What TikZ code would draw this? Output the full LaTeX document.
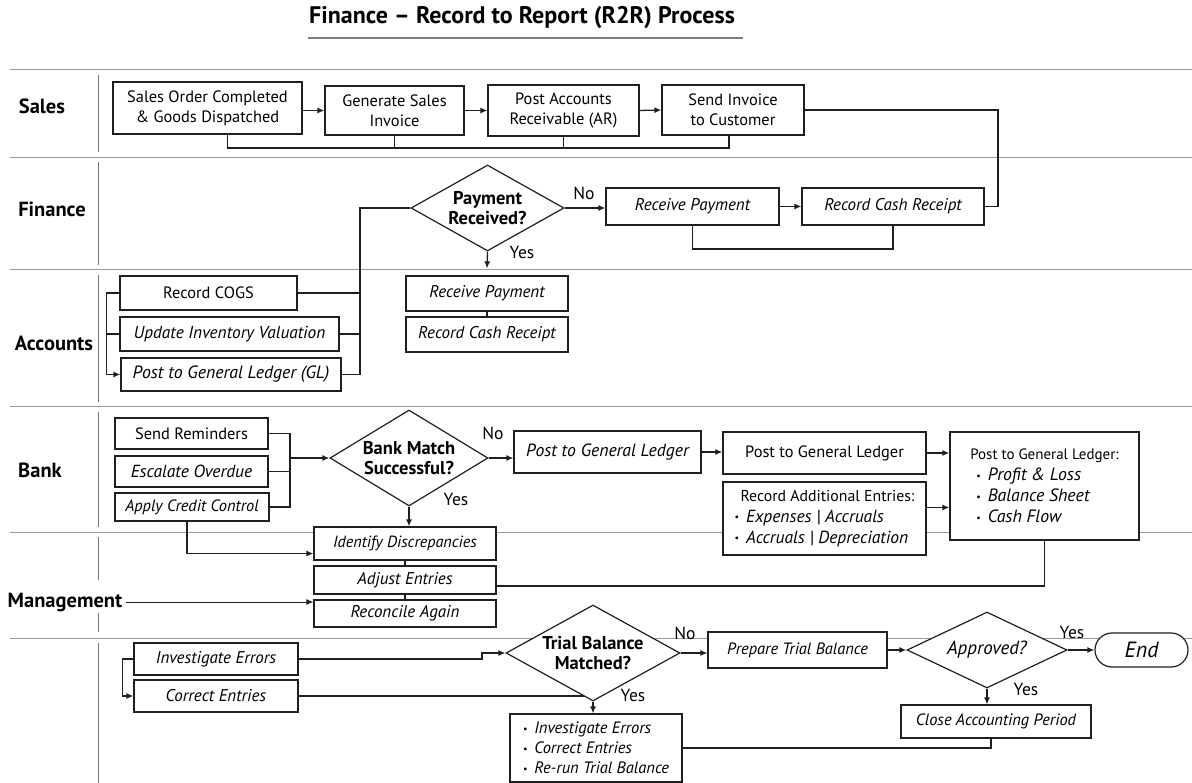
\documentclass[tikz,border=0pt]{standalone}
\usepackage{fontspec}
\setmainfont{PT Sans}
\usetikzlibrary{arrows.meta,shapes.geometric,calc}
\newcommand{\mybul}{\raisebox{1.5pt}{\fontsize{10}{10}\selectfont\textbullet}\hspace{7pt}}
\begin{document}
\begin{tikzpicture}[x=1pt,y=-1pt,
  lane/.style={draw=black!40, line width=1pt},
  sep/.style={draw=black!55, line width=0.8pt},
  box/.style={draw=black!88, fill=white, line width=1.2pt, inner sep=2pt, align=center,
    font=\fontsize{16.4}{20}\selectfont, text=black},
  ibox/.style={box, font=\fontsize{17}{20}\selectfont\itshape},
  dia/.style={diamond, draw=black!88, fill=white, line width=1.2pt, inner sep=0pt},
  dtext/.style={align=center, font=\fontsize{18.5}{20}\selectfont\bfseries, text=black},
  conn/.style={draw=black!88, line width=1.3pt},
  arr/.style={conn, -{Latex[length=7pt,width=6pt]}},
  lanelbl/.style={font=\fontsize{20.5}{22}\selectfont\bfseries, text=black},
  lbl/.style={font=\fontsize{17.5}{20}\selectfont, text=black},
]
\useasboundingbox (0,0) rectangle (1192,783);

% title
\node[font=\fontsize{24}{26}\selectfont\bfseries, text=black] (title) at (522,18)
  {Finance -- Record to Report (R2R) Process};
\draw[draw=black!50, line width=1.5pt] (308,38) -- (743,38);

% swimlane rules
\foreach \yy in {70,158,270,407,532,638}
  \draw[lane] (10,\yy) -- (1192,\yy);
\foreach \ya/\yb in {75/152,162/265,275/402,412/527,537/580,613/632,643/783}
  \draw[sep] (98,\ya) -- (98,\yb);

% lane titles
\node[lanelbl] (lsales) at (42,106) {Sales};
\node[lanelbl] (lfin) at (52,209) {Finance};
\node[lanelbl] (lacc) at (54,343) {Accounts};
\node[lanelbl] (lbank) at (40,470) {Bank};
\node[lanelbl] (lmg) at (65,602) {Management};

% ---- Sales
\node[box, minimum width=189pt, minimum height=52pt] (so) at (207.5,108) {Sales Order Completed\\\& Goods Dispatched};
\node[box, minimum width=139pt, minimum height=49pt] (gsi) at (394.5,110.5) {Generate Sales\\Invoice};
\node[box, minimum width=151pt, minimum height=51pt] (par) at (563.5,110.5) {Post Accounts\\Receivable (AR)};
\node[box, minimum width=142pt, minimum height=50pt] (sic) at (733,110) {Send Invoice\\to Customer};
\draw[arr] (so.east |- gsi.west) -- (gsi.west);
\draw[arr] (gsi.east) -- (par.west);
\draw[arr] (par.east) -- (sic.west);
\coordinate (sb) at (0,148);
\coordinate (s1) at ([xshift=20pt]so.south);
\coordinate (s4) at ([xshift=-4pt]sic.south);
\draw[conn] (s1) |- (s4 |- sb) -- (s4);
\draw[conn] (gsi.south) -- (gsi.south |- sb);
\draw[conn] (par.south) -- (par.south |- sb);

% ---- Finance
\node[dia, minimum width=153pt, minimum height=86pt,
  label={[dtext]center:{Payment\\Received?}}] (pr) at (487.5,208) {};
\node[ibox, minimum width=173pt, minimum height=37pt] (rp1) at (692.5,206.5) {Receive Payment};
\node[ibox, minimum width=182pt, minimum height=37pt] (rcr1) at (893,206.5) {Record Cash Receipt};
\draw[arr] (pr.east) -- (pr.east -| rp1.west);
\draw[arr] (rp1.east) -- (rcr1.west);
\node[lbl] (no1) at (584,193) {No};
\node[lbl] (yes1) at (522,252) {Yes};
\coordinate (fb) at (0,249);
\draw[conn] (rp1.south) |- (rcr1.south |- fb) -- (rcr1.south);
\coordinate (fr) at (998,0);
\draw[conn] (sic.east) -- (sic.east -| fr) |- (rcr1.east);

% ---- Accounts
\node[box, minimum width=177pt, minimum height=34pt] (cogs) at (208.5,293) {Record COGS};
\node[ibox, minimum width=219pt, minimum height=34pt, font=\fontsize{17.3}{20}\selectfont\itshape] (inv) at (229.5,334) {Update Inventory Valuation};
\node[ibox, minimum width=220pt, minimum height=33pt, font=\fontsize{17.8}{20}\selectfont\itshape] (pgl) at (231,374.5) {Post to General Ledger (GL)};
\node[ibox, minimum width=162pt, minimum height=35pt] (rp2) at (487,293.5) {Receive Payment};
\node[ibox, minimum width=162pt, minimum height=35pt] (rcr2) at (487,334.5) {Record Cash Receipt};
\draw[conn] (rp2.south) -- (rcr2.north);
\draw[arr] (pr.south) -- ([yshift=7pt]rp2.north);
\draw[arr] (cogs.west) -- ++(-13,0) |- (pgl.west);
\draw[conn] (inv.west) -- ++(-13,0);
\coordinate (av) at (360,0);
\draw[conn] (pr.west) -| (av |- pgl.east) -- (pgl.east);
\draw[conn] (cogs.east) -- (cogs.east -| av);
\draw[conn] (inv.east) -- (inv.east -| av);

% ---- Bank
\node[box, minimum width=153pt, minimum height=31pt] (sr) at (191.5,433.5) {Send Reminders};
\node[ibox, minimum width=153pt, minimum height=31pt, font=\fontsize{17.5}{20}\selectfont\itshape] (eo) at (191.5,471.5) {Escalate Overdue};
\node[ibox, minimum width=154pt, minimum height=28pt, font=\fontsize{16.4}{20}\selectfont\itshape] (acc) at (192,507) {Apply Credit Control};
\node[dia, minimum width=158pt, minimum height=96pt,
  label={[dtext]center:{Bank Match\\Successful?}}] (bm) at (409,458) {};
\coordinate (bk) at (290,0);
\draw[conn] (sr.east) -- (sr.east -| bk) |- (acc.east);
\draw[conn] (eo.east) -- (eo.east -| bk);
\draw[arr] (bm.west -| bk) -- (bm.west);
\node[lbl] (no2) at (493,433) {No};
\node[lbl] (yes2) at (456,499) {Yes};
\node[ibox, minimum width=187pt, minimum height=42pt, font=\fontsize{17.7}{20}\selectfont\itshape] (pg1) at (607.5,452) {Post to General Ledger};
\node[box, minimum width=203pt, minimum height=42pt] (pg2) at (824.5,453) {Post to General Ledger};
\draw[arr] (bm.east) -- (bm.east -| pg1.west);
\draw[arr] (pg1.east) -- (pg1.east -| pg2.west);
\node[box, minimum width=203pt, minimum height=73pt, align=left, font=\fontsize{15.8}{21}\selectfont] (rae) at (824.5,518.5)
  {\hspace*{6pt}Record Additional Entries:\\
   \mybul{\fontsize{17.5}{21}\selectfont\itshape Expenses | Accruals}\\
   \mybul{\fontsize{17.5}{21}\selectfont\itshape Accruals | Depreciation}};
\node[box, minimum width=189pt, minimum height=108pt, align=left, font=\fontsize{15}{21}\selectfont] (pgf) at (1044.5,486)
  {Post to General Ledger:\\
   \hspace*{6pt}\mybul{\fontsize{17.8}{21}\selectfont\itshape Profit \& Loss}\\
   \hspace*{6pt}\mybul{\fontsize{17.8}{21}\selectfont\itshape Balance Sheet}\\
   \hspace*{6pt}\mybul{\fontsize{17.8}{21}\selectfont\itshape Cash Flow}};
\draw[arr] (pg2.east) -- (pg2.east -| pgf.west);
\coordinate (r1) at ([yshift=11pt]rae.east);
\draw[arr] (r1) -- (r1 -| pgf.west);

% ---- Management
\node[ibox, minimum width=182pt, minimum height=33pt, font=\fontsize{16.2}{20}\selectfont\itshape] (idd) at (405,543.5) {Identify Discrepancies};
\node[ibox, minimum width=182pt, minimum height=28pt] (adj) at (405,580) {Adjust Entries};
\node[ibox, minimum width=182pt, minimum height=27pt] (rec) at (405,613.5) {Reconcile Again};
\draw[conn] (idd.south) -- (adj.north);
\draw[conn] (adj.south) -- (rec.north);
\draw[arr] (bm.south) -- (bm.south |- idd.north);
\coordinate (a0) at ([xshift=-5pt]acc.south);
\coordinate (a1) at ([yshift=-10pt]idd.west);
\draw[arr] (a0) |- (a1);
\coordinate (p1) at ([yshift=-6pt]adj.east);
\draw[conn] (pgf.south) |- (p1);
\draw[arr, line width=1pt] (lmg.east) -- (lmg.east -| rec.west);

% ---- Closing
\node[ibox, minimum width=164pt, minimum height=32pt] (ie) at (216,659) {Investigate Errors};
\node[ibox, minimum width=164pt, minimum height=32pt] (ce) at (216,696) {Correct Entries};
\draw[arr] (ie.west) -- ++(-11,0) |- (ce.west);
\node[dia, minimum width=174pt, minimum height=96pt,
  label={[dtext]center:{Trial Balance\\Matched?}}] (tb) at (593,653) {};
\coordinate (t1) at (482,0);
\draw[arr] (ie.east) -- (ie.east -| t1) |- (tb.west);
\path (tb.west) -- (tb.south) coordinate[pos=0.896] (tbe);
\draw[conn] (ce.east) -- (ce.east -| tbe);
\node[ibox, minimum width=179pt, minimum height=36pt, font=\fontsize{16.4}{20}\selectfont\itshape] (ptb) at (797.5,650) {Prepare Trial Balance};
\draw[arr] (tb.east) -- (tb.east -| ptb.west);
\node[lbl] (no3) at (685,633) {No};
\node[lbl] (yes3) at (633,695) {Yes};
\node[dia, minimum width=160pt, minimum height=76pt,
  label={[dtext, font=\fontsize{19}{20}\selectfont\itshape]center:Approved?}] (ap) at (987,650) {};
\draw[arr] (ptb.east) -- (ptb.east -| ap.west);
\node[box, rounded corners=17pt, minimum width=93pt, minimum height=34pt,
  font=\fontsize{22}{22}\selectfont\itshape] (end) at (1141.5,650) {End};
\draw[arr] (ap.east) -- (end.west);
\node[lbl] (yes4) at (1072,632) {Yes};
\node[lbl] (yes5) at (1026,689) {Yes};
\node[ibox, minimum width=190pt, minimum height=33pt, font=\fontsize{16.4}{20}\selectfont\itshape] (cap) at (996,721.5) {Close Accounting Period};
\draw[arr] (ap.south) -- (ap.south |- cap.north);
\node[box, minimum width=172pt, minimum height=68pt, align=left,
  font=\fontsize{16.5}{20}\selectfont\itshape] (bul) at (596,748)
  {\mybul Investigate Errors\\ \mybul Correct Entries\\ \mybul Re-run Trial Balance};
\draw[arr] (tb.south) -- (tb.south |- bul.north);
\coordinate (c0) at ([xshift=-5pt]cap.south);
\draw[conn] (c0) |- (bul.east);
\end{tikzpicture}
\end{document}
